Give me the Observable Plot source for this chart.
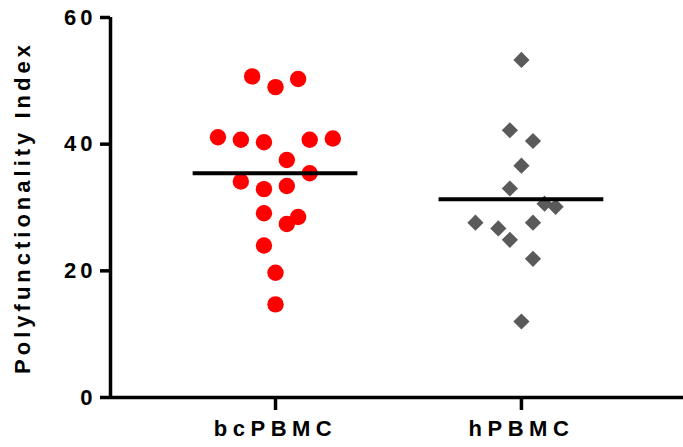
<!DOCTYPE html>
<html>
<head>
<meta charset="utf-8">
<script src="https://cdn.jsdelivr.net/npm/d3@7"></script>
<script src="https://cdn.jsdelivr.net/npm/@observablehq/plot@0.6"></script>
<style>
  html, body { margin: 0; padding: 0; background: #fff; }
  #chart svg text { font-family: "Liberation Sans", Arial, sans-serif; font-weight: bold; letter-spacing: 4px; fill: #000; }
  #chart svg g[aria-label="x-axis tick label"] text { letter-spacing: 5.5px; }
</style>
</head>
<body>
<div id="chart"></div>
<script>
// Categories and tick labels
const categories = ["bcPBMC", "hPBMC"];
const yTicks = [0, 20, 40, 60];

// Series values (Polyfunctionality Index)
const bcValues = [50.7, 49.0, 50.3, 41.1, 40.7, 40.3, 40.7, 40.9, 37.5, 35.4, 34.1, 32.9, 33.4, 29.1, 28.5, 27.4, 24.0, 19.7, 14.7];
// horizontal scatter offsets (in category units) as drawn in the reference
const bcOffsets = [-0.095, 0, 0.092, -0.234, -0.141, -0.047, 0.139, 0.233, 0.046, 0.139, -0.141, -0.047, 0.046, -0.047, 0.092, 0.046, -0.047, 0, 0];

const hValues = [53.3, 42.2, 40.5, 36.6, 33.0, 30.6, 30.1, 27.6, 26.7, 27.6, 24.9, 21.9, 12.0];
const hOffsets = [0, -0.047, 0.047, 0, -0.047, 0.094, 0.139, -0.187, -0.094, 0.047, -0.047, 0.047, 0];

// Group means (horizontal bars)
const means = [35.4, 31.3];

const points = [
  ...bcValues.map((v, i) => ({group: 0, value: v, offset: bcOffsets[i]})),
  ...hValues.map((v, i) => ({group: 1, value: v, offset: hOffsets[i]}))
];
const meanRows = means.map((m, i) => ({group: i, value: m}));

const xDomain = [-0.671, 1.659];
const halfBar = 0.335;

const chart = Plot.plot({
  width: 683,
  height: 447,
  marginLeft: 110,
  marginRight: 0,
  marginTop: 17,
  marginBottom: 50,
  style: {fontSize: "22px", background: "#fff"},
  x: {domain: xDomain, axis: null},
  y: {domain: [0, 60], axis: null},
  marks: [
    Plot.axisY({ticks: yTicks, tickSize: 10, tickPadding: 4, strokeWidth: 3.5, fontSize: 22,
      label: "Polyfunctionality Index", labelAnchor: "center", labelOffset: 96, labelArrow: "none"}),
    Plot.axisX({ticks: [0, 1], tickFormat: i => categories[i], tickSize: 13, tickPadding: 10, strokeWidth: 3.5, fontSize: 22, label: null}),
    Plot.ruleY([0], {stroke: "#000", strokeWidth: 3.5}),
    Plot.ruleX([xDomain[0]], {y1: 0, y2: 60, stroke: "#000", strokeWidth: 3.5}),
    Plot.dot(points.filter(d => d.group === 0), {x: d => d.group + d.offset, y: "value", r: 8.2, fill: "#ff0000", symbol: "circle"}),
    Plot.dot(points.filter(d => d.group === 1), {x: d => d.group + d.offset, y: "value", r: 7.3, fill: "#5a5a5a", symbol: "diamond2"}),
    Plot.ruleY(meanRows, {y: "value", x1: d => d.group - halfBar, x2: d => d.group + halfBar, stroke: "#000", strokeWidth: 4})
  ]
});
document.getElementById("chart").appendChild(chart);
</script>
</body>
</html>
